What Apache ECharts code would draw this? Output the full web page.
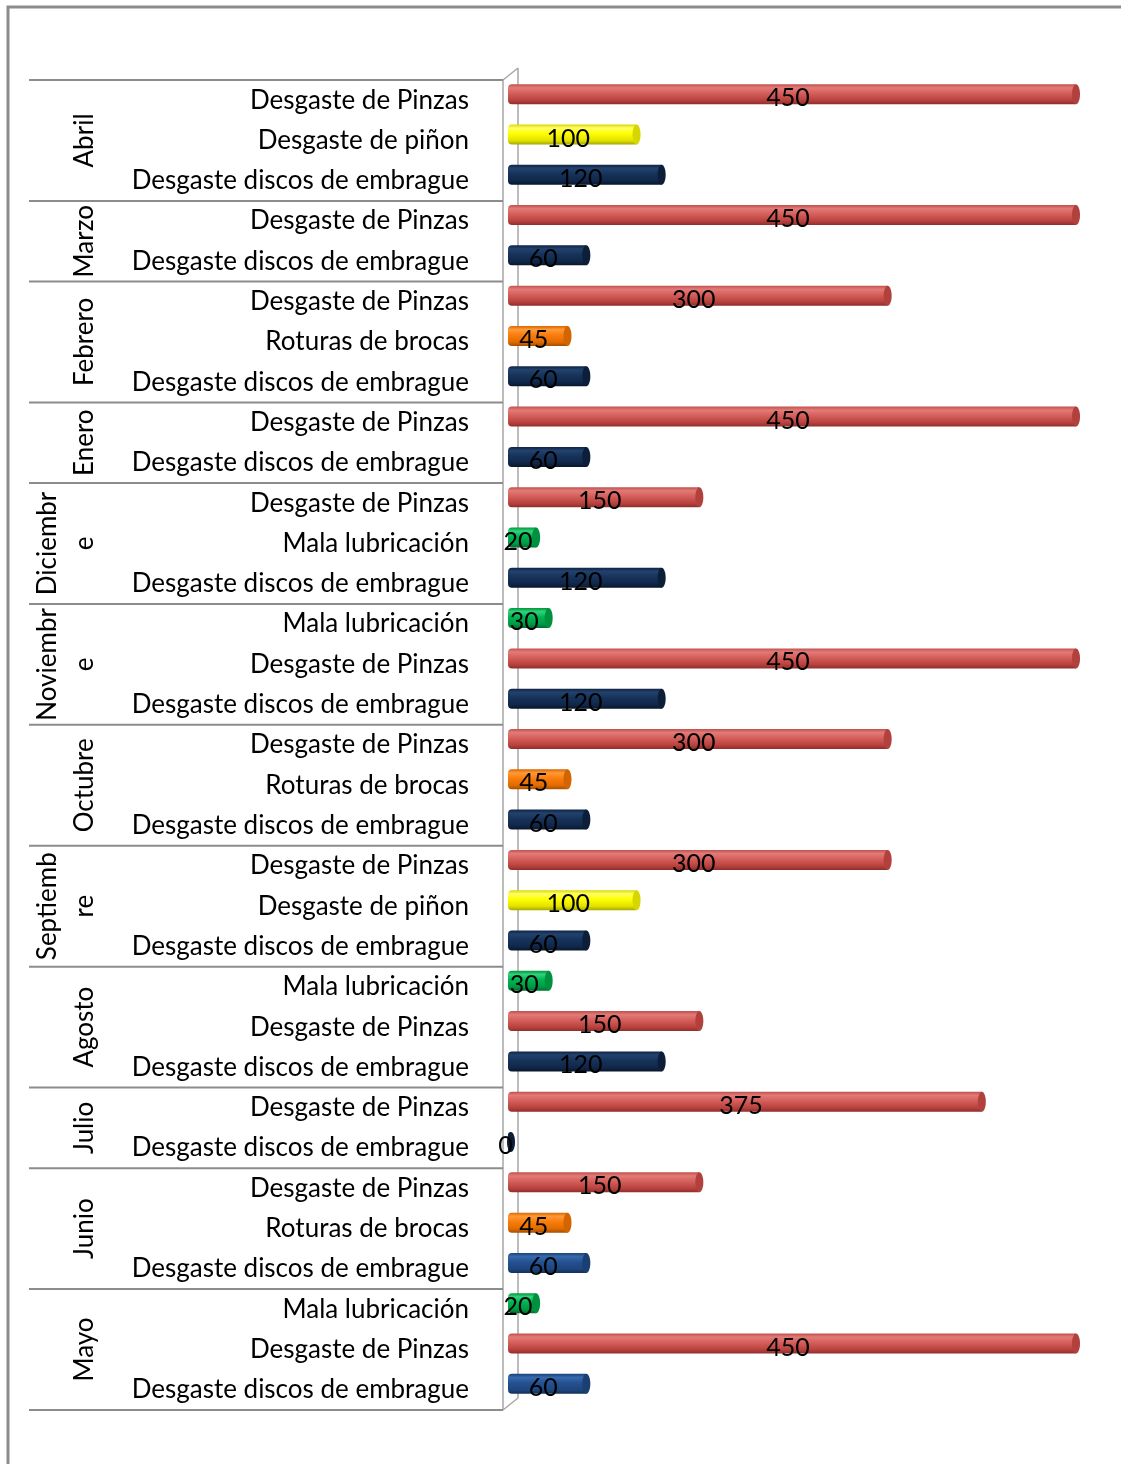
<!DOCTYPE html>
<html>
<head>
<meta charset="utf-8">
<script src="https://cdn.jsdelivr.net/npm/echarts@6/dist/echarts.min.js"></script>
<style>
  html, body { margin: 0; padding: 0; background: #fff; }
  #chart { width: 1121px; height: 1464px; }
</style>
</head>
<body>
<div id="chart"></div>
<script>
// Months, top to bottom, with the wrapped form they are printed in
const monthNames = ['Abril', 'Marzo', 'Febrero', 'Enero', 'Diciembr\ne', 'Noviembr\ne',
  'Octubre', 'Septiemb\nre', 'Agosto', 'Julio', 'Junio', 'Mayo'];
const rowsPerMonth = [3, 2, 3, 2, 3, 3, 3, 3, 3, 2, 3, 3];

// One row per failure cause inside each month
const causeLabels = [
  'Desgaste de Pinzas', 'Desgaste de piñon', 'Desgaste discos de embrague',
  'Desgaste de Pinzas', 'Desgaste discos de embrague',
  'Desgaste de Pinzas', 'Roturas de brocas', 'Desgaste discos de embrague',
  'Desgaste de Pinzas', 'Desgaste discos de embrague',
  'Desgaste de Pinzas', 'Mala lubricación', 'Desgaste discos de embrague',
  'Mala lubricación', 'Desgaste de Pinzas', 'Desgaste discos de embrague',
  'Desgaste de Pinzas', 'Roturas de brocas', 'Desgaste discos de embrague',
  'Desgaste de Pinzas', 'Desgaste de piñon', 'Desgaste discos de embrague',
  'Mala lubricación', 'Desgaste de Pinzas', 'Desgaste discos de embrague',
  'Desgaste de Pinzas', 'Desgaste discos de embrague',
  'Desgaste de Pinzas', 'Roturas de brocas', 'Desgaste discos de embrague',
  'Mala lubricación', 'Desgaste de Pinzas', 'Desgaste discos de embrague'
];
const failureCounts = [
  450, 100, 120,
  450, 60,
  300, 45, 60,
  450, 60,
  150, 20, 120,
  30, 450, 120,
  300, 45, 60,
  300, 100, 60,
  30, 150, 120,
  375, 0,
  150, 45, 60,
  20, 450, 60
];

const FONT = 'Lato, "Open Sans", sans-serif';

// Cylinder shading per cause: [top edge, highlight, body, lower, bottom edge, end cap]
const shades = {
  'Desgaste de Pinzas':          ['#c0504d', '#e27b77', '#d55f5b', '#b9423e', '#8e2e2b', '#b2413d'],
  'Desgaste de piñon':           ['#d8d800', '#ffff66', '#ffff00', '#e2e200', '#a8a800', '#d6d600'],
  'Desgaste discos de embrague': ['#0f2443', '#22426e', '#17335a', '#10274a', '#081629', '#0c1e38'],
  'Roturas de brocas':           ['#d86600', '#ff9a3a', '#fb7d0c', '#e06c00', '#a84e00', '#d46400'],
  'Mala lubricación':            ['#00953f', '#30d478', '#00b452', '#009a44', '#006d30', '#00913f'],
  'discos claro':                ['#1c4273', '#3569ad', '#255191', '#1e467e', '#133058', '#1a3f70']
};
const lightDiscMonths = ['Junio', 'Mayo'];

// Month index of every row
const rowMonth = [];
rowsPerMonth.forEach((n, m) => { for (let k = 0; k < n; k++) rowMonth.push(m); });

function shadeFor(i) {
  const cause = causeLabels[i];
  if (cause === 'Desgaste discos de embrague' && lightDiscMonths.includes(monthNames[rowMonth[i]])) {
    return shades['discos claro'];
  }
  return shades[cause];
}

const barData = failureCounts.map((v, i) => [v, i]);

const groupData = [];
let startRow = 0;
rowsPerMonth.forEach((n) => { groupData.push([0, startRow, startRow + n - 1]); startRow += n; });

function renderCylinder(params, api) {
  const val = api.value(0), row = api.value(1);
  const p0 = api.coord([0, row]);
  const p1 = api.coord([val, row]);
  const h = 20;
  const cy = p0[1] - 6;
  const x0 = p0[0];
  const xe = p1[0] + 3;
  const s = shadeFor(params.dataIndex);
  return {
    type: 'group',
    children: [
      {
        type: 'rect',
        shape: { x: x0, y: cy - h / 2, width: Math.max(xe - x0, 0), height: h, r: [4, 0, 0, 4] },
        style: {
          fill: {
            type: 'linear', x: 0, y: 0, x2: 0, y2: 1,
            colorStops: [
              { offset: 0, color: s[0] }, { offset: 0.18, color: s[1] },
              { offset: 0.45, color: s[2] }, { offset: 0.8, color: s[3] },
              { offset: 1, color: s[4] }
            ]
          }
        }
      },
      {
        type: 'ellipse',
        shape: { cx: xe, cy: cy, rx: 4, ry: h / 2 },
        style: { fill: s[5] }
      },
      {
        type: 'text',
        style: {
          text: String(val), x: (x0 + xe) / 2 - 4, y: cy + 4,
          align: 'center', verticalAlign: 'middle',
          font: '25px ' + FONT, fill: '#000'
        }
      }
    ]
  };
}

function renderMonth(params, api) {
  const first = api.value(1), last = api.value(2);
  const band = api.size([0, 1])[1];
  const top = api.coord([0, first])[1] - band / 2;
  const bottom = api.coord([0, last])[1] + band / 2;
  const gx = params.coordSys.x;
  const lineStyle = { stroke: '#8c8c8c', lineWidth: 2 };
  const children = [
    { type: 'line', shape: { x1: 29, y1: bottom, x2: gx - 5, y2: bottom }, style: lineStyle },
    {
      type: 'text', x: 103.5, y: (top + bottom) / 2, rotation: Math.PI / 2,
      style: {
        text: monthNames[params.dataIndex], align: 'center', verticalAlign: 'bottom',
        lineHeight: 37, font: '26px ' + FONT, fill: '#000'
      }
    }
  ];
  if (first === 0) {
    children.push({ type: 'line', shape: { x1: 29, y1: top, x2: gx - 5, y2: top }, style: lineStyle });
  }
  return { type: 'group', children };
}

// Side wall of the 3-D category axis
function renderWall(params) {
  const c = params.coordSys;
  const fx = c.x - 5, bx = c.x + 10, d = 12;
  const st = { stroke: '#a6a6a6', lineWidth: 1.5 };
  return {
    type: 'group',
    children: [
      { type: 'line', shape: { x1: fx, y1: c.y, x2: fx, y2: c.y + c.height }, style: st },
      { type: 'line', shape: { x1: bx, y1: c.y - d, x2: bx, y2: c.y + c.height - d }, style: st },
      { type: 'line', shape: { x1: fx, y1: c.y, x2: bx, y2: c.y - d }, style: st },
      { type: 'line', shape: { x1: fx, y1: c.y + c.height, x2: bx, y2: c.y + c.height - d }, style: st }
    ]
  };
}

const chart = echarts.init(document.getElementById('chart'), null, { renderer: 'canvas' });
chart.setOption({
  backgroundColor: '#ffffff',
  animation: false,
  graphic: [{
    type: 'rect', silent: true, z: 0,
    shape: { x: 8, y: 7, width: 1300, height: 1600 },
    style: { fill: 'transparent', stroke: '#8c8c8c', lineWidth: 3 }
  }],
  grid: { left: 508, right: 48, top: 80, bottom: 54, containLabel: false },
  xAxis: {
    type: 'value', min: 0, max: 450,
    axisLine: { show: false }, axisTick: { show: false },
    axisLabel: { show: false }, splitLine: { show: false }
  },
  yAxis: {
    type: 'category', inverse: true, data: causeLabels,
    axisLine: { show: false }, axisTick: { show: false },
    axisLabel: { fontSize: 26, fontFamily: FONT, color: '#000', margin: 39, interval: 0 }
  },
  series: [
    { type: 'custom', name: 'wall', z: 1, clip: false, renderItem: renderWall, data: [[0, 0]], silent: true },
    { type: 'custom', name: 'meses', z: 2, clip: false, renderItem: renderMonth, data: groupData, silent: true,
      encode: { x: 0, y: 1 } },
    { type: 'custom', name: 'Fallas', z: 3, clip: false, renderItem: renderCylinder, data: barData,
      encode: { x: 0, y: 1 } }
  ]
});
</script>
</body>
</html>
